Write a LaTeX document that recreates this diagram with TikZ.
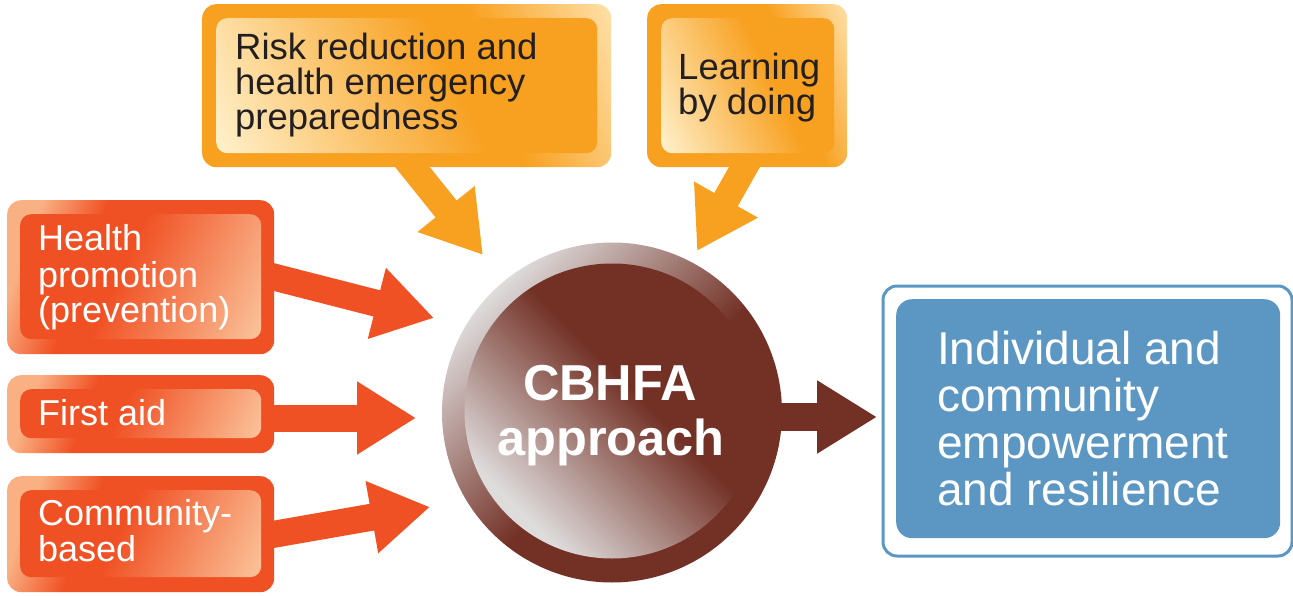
\documentclass[tikz,border=0pt]{standalone}
\usepackage{fontspec}
\setmainfont{Liberation Sans}
\usetikzlibrary{arrows.meta}
\definecolor{oRed}{HTML}{F05124}
\definecolor{peach}{HTML}{FBC49B}
\definecolor{peachD}{HTML}{F9B083}
\definecolor{oOrange}{HTML}{F8A01F}
\definecolor{cream}{HTML}{FFF1CC}
\definecolor{creamD}{HTML}{FEE0A8}
\definecolor{brown}{HTML}{733126}
\definecolor{greyL}{HTML}{DEDBDB}
\definecolor{bBlue}{HTML}{5C97C3}
\definecolor{txtDark}{HTML}{231F20}
\pgfdeclarehorizontalshading{redOuterS}{100bp}{color(0bp)=(peachD); color(25bp)=(peachD); color(38bp)=(oRed); color(100bp)=(oRed)}
\pgfdeclarehorizontalshading{redInnerS}{100bp}{color(0bp)=(oRed); color(45bp)=(oRed); color(83bp)=(peach); color(100bp)=(peach)}
\pgfdeclarehorizontalshading{orOuterS}{100bp}{color(0bp)=(oOrange); color(62bp)=(oOrange); color(82bp)=(creamD); color(100bp)=(creamD)}
\pgfdeclarehorizontalshading{orInnerS}{100bp}{color(0bp)=(cream); color(17bp)=(cream); color(58bp)=(oOrange); color(100bp)=(oOrange)}
\pgfdeclarehorizontalshading{ringS}{100bp}{color(0bp)=(greyL); color(25bp)=(greyL); color(53bp)=(brown); color(100bp)=(brown)}
\pgfdeclarehorizontalshading{discS}{100bp}{color(0bp)=(greyL); color(27bp)=(greyL); color(55bp)=(brown); color(100bp)=(brown)}
\pgfdeclarelayer{bg}
\pgfsetlayers{bg,main}
\begin{document}
\begin{tikzpicture}[x=1pt,y=-1pt,
  boxbase/.style={shape=rectangle, inner sep=0pt, anchor=north west},
  redOuter/.style={boxbase, rounded corners=14pt, shade, shading=redOuterS, shading angle=-20},
  redInner/.style={boxbase, rounded corners=11pt, shade, shading=redInnerS, shading angle=-25},
  orOuter/.style={boxbase, rounded corners=14pt, shade, shading=orOuterS, shading angle=20},
  orInner/.style={boxbase, rounded corners=11pt, shade, shading=orInnerS, shading angle=25},
  lblW/.style={font=\fontsize{36}{36}\selectfont, text=white, inner sep=0pt, anchor=base west},
  lblD/.style={font=\fontsize{36.5}{36}\selectfont, text=txtDark, inner sep=0pt, anchor=base west},
  lblB/.style={font=\fontsize{46}{46}\selectfont, text=white, inner sep=0pt, anchor=base west},
  lblC/.style={font=\fontsize{50.5}{50}\selectfont\bfseries, text=white, inner sep=0pt, anchor=base},
  redArr/.style={draw=oRed, line width=27pt, -{Triangle[length=59pt,width=69pt]}, shorten <=-20pt},
  orArr/.style={draw=oOrange, line width=27pt, -{Triangle[length=59pt,width=69pt]}, shorten <=-20pt},
  brArr/.style={draw=brown, line width=28pt, -{Triangle[length=60pt,width=69pt]}},
]
\useasboundingbox (0,0) rectangle (1293,596);

% left boxes
\node[redOuter, minimum width=267pt, minimum height=154pt] (hp) at (7,200) {};
\node[redInner, minimum width=241pt, minimum height=125pt] (hpI) at (20,214) {};
\node[redOuter, minimum width=267pt, minimum height=78pt] (fa) at (7,375) {};
\node[redInner, minimum width=241pt, minimum height=49pt] (faI) at (20,389) {};
\node[redOuter, minimum width=267pt, minimum height=116pt] (cb) at (7,476) {};
\node[redInner, minimum width=241pt, minimum height=87pt] (cbI) at (20,490) {};

\node[lblW] (hp1) at (38,251) {Health};
\node[lblW] (hp2) at (38,287) {promotion};
\node[lblW] (hp3) at (38,322) {(prevention)};
\node[lblW] (fa1) at (38,425) {First aid};
\node[lblW] (cb1) at (38,525) {Community-};
\node[lblW] (cb2) at (38,561) {based};

% top boxes
\node[orOuter, minimum width=409pt, minimum height=163pt] (rr) at (202,4) {};
\node[orInner, minimum width=381pt, minimum height=135pt] (rrI) at (216,18) {};
\node[orOuter, minimum width=200pt, minimum height=163pt] (lb) at (647,4) {};
\node[orInner, minimum width=173pt, minimum height=135pt] (lbI) at (661,18) {};

\node[lblD] (rr1) at (235,60) {Risk reduction and};
\node[lblD] (rr2) at (235,95) {health emergency};
\node[lblD] (rr3) at (235,130) {preparedness};
\node[lblD] (lb1) at (678,80) {Learning};
\node[lblD] (lb2) at (678,115) {by doing};

% central circle
\node[circle, inner sep=0pt, minimum size=340pt, shade, shading=ringS, shading angle=-45] (cc) at (612,412.5) {};
\node[circle, inner sep=0pt, minimum size=295pt, shade, shading=discS, shading angle=45] (ccI) at (612,411) {};
\node[lblC] (ct1) at (610,400) {CBHFA};
\node[lblC] (ct2) at (611,455) {approach};

% result box
\node[boxbase, draw=bBlue, line width=3pt, fill=white, rounded corners=14pt, minimum width=409pt, minimum height=270pt] (res) at (881.5,284.5) {};
\node[boxbase, fill=bBlue, rounded corners=16pt, minimum width=384pt, minimum height=239pt] (resI) at (896,299) {};
\node[lblB] (rs1) at (937,364) {Individual and};
\node[lblB] (rs2) at (937,411) {community};
\node[lblB] (rs3) at (937,458) {empowerment};
\node[lblB] (rs4) at (937,505) {and resilience};

% arrow tips
\coordinate (t1) at (434,318);
\coordinate (t2) at (416,418);
\coordinate (t3) at (430,507);
\coordinate (t4) at (483,255);
\coordinate (t5) at (697,251);
\coordinate (t7) at (877,417);

\begin{pgfonlayer}{bg}
\draw[redArr] (hp.east) -- (t1);
\draw[redArr] (fa.east |- t2) -- (t2);
\draw[redArr] (cb.east) -- (t3);
\draw[orArr] ([xshift=6pt]rr.south) -- (t4);
\draw[orArr] ([xshift=-3pt]lb.south) -- (t5);
\draw[brArr] (cc.center |- t7) -- (t7);
\end{pgfonlayer}
\end{tikzpicture}
\end{document}
